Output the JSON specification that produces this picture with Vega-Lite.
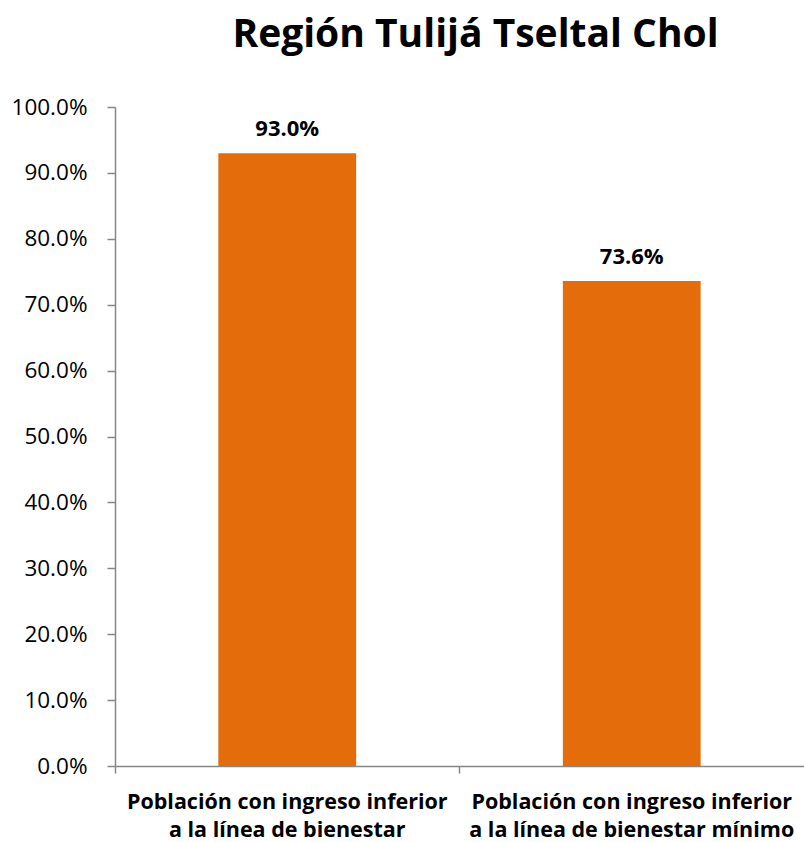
{
  "$schema": "https://vega.github.io/schema/vega-lite/v6.json",
  "autosize": "none",
  "width": 689,
  "height": 659,
  "padding": {"left": 115, "top": 107, "right": 0, "bottom": 76},
  "background": "white",
  "title": {
    "text": "Región Tulijá Tseltal Chol",
    "font": "Open Sans",
    "fontSize": 39,
    "fontWeight": "bold",
    "color": "#000000",
    "anchor": "middle",
    "dx": 16,
    "offset": 41
  },
  "data": {
    "values": [
      {"cat": "A", "label": "Población con ingreso inferior|a la línea de bienestar", "value": 0.93},
      {"cat": "B", "label": "Población con ingreso inferior|a la línea de bienestar mínimo", "value": 0.736}
    ]
  },
  "encoding": {
    "x": {
      "field": "label",
      "type": "nominal",
      "sort": null,
      "scale": {"paddingInner": 0.6, "paddingOuter": 0.3},
      "axis": {
        "title": null,
        "labelAngle": 0,
        "labelExpr": "split(datum.label, '|')",
        "labelFont": "Open Sans",
        "labelFontSize": 21.5,
        "labelFontWeight": "bold",
        "labelColor": "#000000",
        "labelLineHeight": 28,
        "labelPadding": 18,
        "labelLimit": 400,
        "bandPosition": -0.75,
        "tickSize": 7,
        "tickColor": "#868686",
        "domainColor": "#868686",
        "domainWidth": 1.5,
        "tickWidth": 1.5
      }
    },
    "y": {
      "field": "value",
      "type": "quantitative",
      "scale": {"domain": [0, 1], "nice": false},
      "axis": {
        "title": null,
        "format": ".1%",
        "values": [0, 0.1, 0.2, 0.3, 0.4, 0.5, 0.6, 0.7, 0.8, 0.9, 1.0],
        "grid": false,
        "labelFont": "Open Sans",
        "labelFontSize": 22.5,
        "labelColor": "#000000",
        "labelPadding": 20,
        "tickSize": 8,
        "tickColor": "#868686",
        "domainColor": "#868686",
        "domainWidth": 1.5,
        "tickWidth": 1.5
      }
    }
  },
  "layer": [
    {"mark": {"type": "bar", "color": "#E46C0A"}},
    {
      "mark": {
        "type": "text",
        "font": "Open Sans",
        "fontSize": 22,
        "fontWeight": "bold",
        "color": "#000000",
        "baseline": "alphabetic",
        "dy": -17
      },
      "encoding": {"text": {"field": "value", "type": "quantitative", "format": ".1%"}}
    }
  ],
  "config": {"view": {"stroke": null}}
}
